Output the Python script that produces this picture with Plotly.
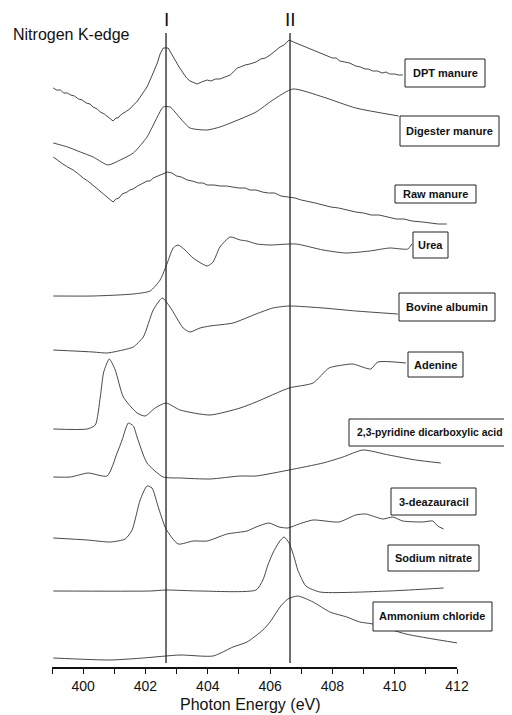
import plotly.graph_objects as go

# ---------------- data (photon energy in eV, stacked intensity in a.u.) ----------------
dpt_e = [399.04, 399.15, 399.27, 399.38, 399.49, 399.6, 399.72, 399.85, 399.97, 400.1, 400.22, 400.32,
         400.45, 400.55, 400.68, 400.8, 400.9, 400.96, 401.05, 401.12, 401.2, 401.3, 401.41, 401.5,
         401.61, 401.72, 401.83, 401.95, 402.05, 402.15, 402.25, 402.38, 402.47, 402.57, 402.73, 402.85,
         402.95, 403.08, 403.21, 403.32, 403.43, 403.55, 403.66, 403.8, 403.98, 404.1, 404.25, 404.39,
         404.55, 404.72, 404.85, 404.95, 405.04, 405.2, 405.35, 405.55, 405.7, 405.85, 406.0, 406.12,
         406.22, 406.32, 406.45, 406.55, 406.61, 406.75, 406.9, 407.05, 407.2, 407.38, 407.55, 407.7,
         407.85, 408.0, 408.12, 408.24, 408.4, 408.55, 408.75, 408.9, 409.05, 409.15, 409.3, 409.45,
         409.6, 409.72, 409.84, 410.0, 410.12, 410.26]
dpt_i = [579, 577, 577, 574, 574, 572, 571, 568, 567, 564, 563, 560,
         558, 555, 553, 550, 548, 546, 549, 549, 552, 554, 557, 558,
         562, 565, 570, 575, 580, 587, 594, 604, 613, 619, 619, 613,
         607, 600, 594, 589, 586, 584, 583, 585, 587, 586, 588, 588,
         590, 592, 596, 599, 600, 602, 603, 605, 608, 609, 612, 615,
         617, 620, 622, 625, 627, 625, 623, 621, 619, 617, 615, 613,
         611, 609, 609, 606, 605, 604, 601, 600, 598, 598, 596, 596,
         594, 595, 593, 593, 592, 592]

dig_e = [399.04, 399.5, 399.91, 400.32, 400.8, 401.19, 401.61, 402.05, 402.38, 402.57, 402.79, 403.11,
         403.43, 403.98, 404.39, 404.81, 405.55, 406.09, 406.73, 407.7, 408.75, 410.13]
dig_i = [524, 520, 515, 510, 502, 507, 514, 530, 550, 560, 560, 549,
         539, 537, 540, 545, 555, 567, 578, 570, 559, 551]

raw_e = [399.04, 399.2, 399.35, 399.5, 399.68, 399.85, 400.0, 400.15, 400.32, 400.5, 400.65, 400.8,
         400.96, 401.05, 401.15, 401.25, 401.41, 401.5, 401.6, 401.75, 401.93, 402.05, 402.15, 402.25,
         402.4, 402.55, 402.7, 402.85, 403.0, 403.15, 403.34, 403.5, 403.7, 403.85, 403.98, 404.2,
         404.4, 404.6, 404.81, 405.0, 405.2, 405.35, 405.55, 405.75, 405.95, 406.15, 406.35, 406.61,
         406.8, 407.0, 407.2, 407.45, 407.7, 407.95, 408.2, 408.45, 408.75, 409.0, 409.25, 409.5,
         409.81, 410.05, 410.3, 410.55, 410.9, 411.15, 411.4, 411.67]
raw_i = [510, 506, 503, 500, 497, 493, 489, 486, 482, 477, 473, 469,
         465, 468, 469, 473, 475, 477, 478, 481, 484, 486, 486, 489,
         491, 493, 495, 494, 491, 490, 487, 486, 484, 484, 482, 482,
         481, 481, 480, 479, 479, 477, 477, 475, 474, 474, 471, 470,
         469, 467, 466, 464, 462, 460, 459, 457, 455, 454, 452, 452,
         450, 448, 448, 446, 445, 444, 443, 443]

urea_e = [399.04, 400.32, 401.61, 402.15, 402.47, 402.7, 402.89, 403.05, 403.27, 403.53, 403.98, 404.17,
          404.39, 404.72, 405.04, 405.26, 405.58, 406.0, 406.83, 407.7, 408.43, 409.2, 409.84, 410.42,
          410.55]
urea_i = [371, 371, 373, 376, 387, 404, 419, 422, 417, 409, 401, 405,
          420, 430, 427, 426, 423, 422, 423, 417, 414, 416, 419, 418,
          423]

bsa_e = [399.04, 400.32, 400.77, 401.41, 401.61, 401.93, 402.25, 402.54, 402.79, 403.21, 403.43, 403.75,
         404.07, 404.81, 405.55, 406.09, 406.61, 407.7, 408.75, 410.1]
bsa_i = [317, 315, 314, 318, 320, 330, 357, 369, 360, 339, 335, 339,
         341, 344, 353, 359, 361, 359, 356, 353]

ade_e = [399.04, 400.13, 400.39, 400.55, 400.66, 400.84, 401.03, 401.29, 401.73, 401.99, 402.31, 402.66,
         403.11, 404.07, 405.04, 405.55, 406.61, 407.38, 407.89, 408.34, 408.66, 409.23, 409.46, 410.36]
ade_i = [238, 238, 242, 270, 295, 308, 297, 270, 254, 251, 259, 264,
         257, 252, 259, 265, 279, 284, 299, 302, 303, 298, 305, 304]

pyr_e = [399.04, 399.59, 400.16, 400.77, 401.09, 401.25, 401.45, 401.61, 401.73, 402.05, 402.57, 403.11,
         404.07, 405.04, 405.55, 406.61, 407.7, 408.34, 408.98, 409.81, 410.67, 411.48]
pyr_i = [190, 190, 194, 191, 214, 227, 244, 241, 230, 204, 190, 189,
         188, 191, 191, 197, 204, 210, 217, 212, 207, 204]

dea_e = [399.04, 400.13, 400.87, 401.35, 401.57, 401.83, 402.05, 402.21, 402.41, 402.66, 403.05, 403.53,
         403.98, 404.62, 405.26, 405.55, 405.96, 406.29, 406.57, 406.93, 407.38, 408.21, 408.75, 409.07,
         409.62, 409.94, 410.26, 410.9, 411.22, 411.38, 411.57]
dea_i = [129, 127, 125, 128, 137, 167, 181, 179, 160, 138, 123, 126,
         126, 133, 136, 140, 144, 140, 139, 143, 147, 145, 152, 153,
         148, 150, 146, 145, 146, 141, 138]

nit_e = [399.04, 402.15, 402.66, 403.75, 405.55, 405.77, 405.93, 406.09, 406.29, 406.45, 406.61, 406.77,
         406.89, 407.15, 407.6, 409.81, 411.57]
nit_i = [76, 76, 77, 76, 77, 87, 102, 114, 125, 130, 124, 110,
         97, 81, 75, 76, 79]

amm_e = [399.04, 400.87, 401.93, 403.11, 404.17, 404.81, 405.26, 405.77, 406.0, 406.32, 406.57, 406.89,
         407.38, 407.92, 408.46, 408.88, 409.3, 410.36, 412.02]
amm_i = [9, 7, 9, 12, 11, 20, 25, 37, 45, 60, 68, 71,
         65, 55, 50, 45, 43, 33, 24]

sample_names = ["DPT manure", "Digester manure", "Raw manure", "Urea", "Bovine albumin", "Adenine",
                "2,3-pyridine dicarboxylic acid", "3-deazauracil", "Sodium nitrate", "Ammonium chloride"]
peak_energies = [402.66, 406.64]
peak_labels = ["I", "II"]
tick_vals = [400, 402, 404, 406, 408, 410, 412]

series = [(dpt_e, dpt_i, "linear"), (dig_e, dig_i, "spline"), (raw_e, raw_i, "linear"),
          (urea_e, urea_i, "spline"), (bsa_e, bsa_i, "spline"), (ade_e, ade_i, "spline"),
          (pyr_e, pyr_i, "spline"), (dea_e, dea_i, "spline"), (nit_e, nit_i, "spline"),
          (amm_e, amm_i, "spline")]

# ---------------- layout geometry ----------------
# the page body has an 8px margin, so the figure is drawn 8px in from the window corner
OFF = 8
W, H = 512 - OFF, 715 - OFF
ML, MR, MT, MB = 52 - OFF, 55, 0, 48
PW = W - ML - MR
PH = H - MT - MB
YMAX = PH
FONT = "Arial, Liberation Sans, sans-serif"


def px_x(p):
    # window pixel -> paper x
    return (p - OFF - ML) / PW


def px_y(p):
    # window pixel -> paper y
    return (H - MB - (p - OFF)) / PH


fig = go.Figure()
for (e, i, shp), name in zip(series, sample_names):
    fig.add_trace(go.Scatter(x=e, y=i, mode="lines", name=name,
                             line=dict(color="#333333", width=0.9, shape=shp, smoothing=0.6),
                             showlegend=False, hoverinfo="skip"))

# vertical reference lines
for pe, lab in zip(peak_energies, peak_labels):
    fig.add_trace(go.Scatter(x=[pe, pe], y=[4, 634], mode="lines",
                             line=dict(color="#222222", width=1.3),
                             showlegend=False, hoverinfo="skip"))
    fig.add_annotation(x=pe, y=px_y(20), xref="x", yref="paper", text=lab, showarrow=False,
                       xanchor="center", yanchor="middle",
                       font=dict(family=FONT, size=19, color="#111111"))

# label boxes (window-pixel boxes -> paper coordinates) and label font sizes
boxes = [(405, 485, 59, 87, 445, 73), (400, 499, 116, 146, 449, 131), (395, 476, 185, 203, 435, 194),
         (413, 448, 232, 258, 430, 245), (399, 495, 293, 321, 447, 307), (408, 463, 352, 377, 435, 365),
         (349, 516, 419, 446, 430, 433), (391, 476, 488, 515, 434, 502), (388, 479, 545, 571, 433, 558),
         (373, 492, 602, 631, 432, 616)]
label_sizes = [11, 11, 11, 11, 11, 11, 10.4, 11, 11, 11]
for (x0, x1, y0, y1, cx, cy), name, fs in zip(boxes, sample_names, label_sizes):
    fig.add_shape(type="rect", xref="paper", yref="paper",
                  x0=px_x(x0), x1=px_x(x1), y0=px_y(y1), y1=px_y(y0),
                  line=dict(color="#222222", width=1), fillcolor="white", layer="above")
    fig.add_annotation(x=px_x(cx), y=px_y(cy), xref="paper", yref="paper", text="<b>" + name + "</b>",
                       showarrow=False, xanchor="center", yanchor="middle",
                       font=dict(family=FONT, size=fs, color="#111111"))

fig.add_annotation(x=px_x(11), y=px_y(35), xref="paper", yref="paper", text="Nitrogen K-edge",
                   showarrow=False, xanchor="left", yanchor="middle",
                   font=dict(family=FONT, size=16, color="#111111"))

fig.add_annotation(x=px_x(250), y=px_y(704), xref="paper", yref="paper", text="Photon Energy (eV)",
                   showarrow=False, xanchor="center", yanchor="middle",
                   font=dict(family=FONT, size=16, color="#111111"))

fig.update_layout(
    width=W, height=H, margin=dict(l=ML, r=MR, t=MT, b=MB, autoexpand=False),
    paper_bgcolor="white", plot_bgcolor="white",
    xaxis=dict(range=[399, 412], showline=True, linecolor="#111111", linewidth=1.5,
               ticks="outside", ticklen=5, tickwidth=1, tickcolor="#111111",
               tickvals=tick_vals, showgrid=False, zeroline=False, ticklabelstandoff=0,
               minor=dict(dtick=1, tick0=399, ticks="outside", ticklen=5, tickwidth=1, tickcolor="#111111"),
               tickfont=dict(family=FONT, size=14, color="#111111")),
    yaxis=dict(range=[0, YMAX], visible=False),
)

fig.write_html("out.html")
